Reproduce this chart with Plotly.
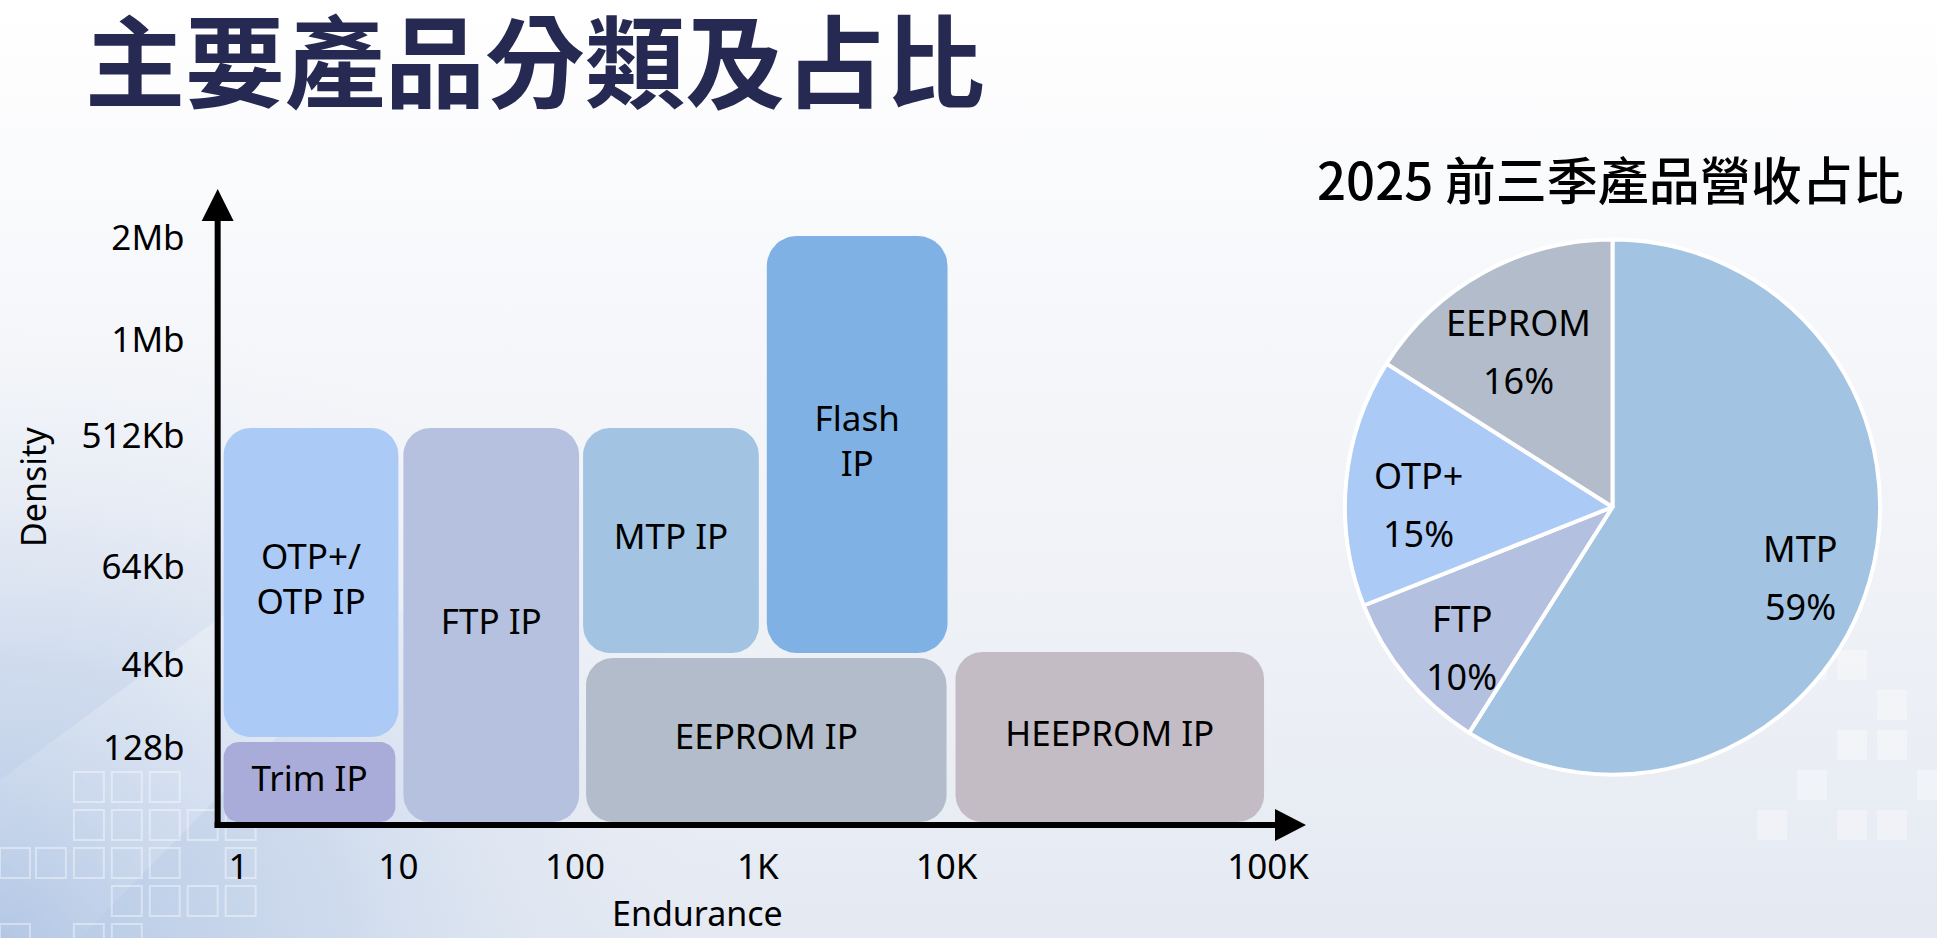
import base64
import numpy as np
import plotly.graph_objects as go

W, H = 1940, 938

# ---------------- data ----------------
# Left schematic: product families placed by endurance (x) and density (y)
box_names = ["OTP+/<br>OTP IP", "Trim IP", "FTP IP", "MTP IP", "Flash<br>IP", "EEPROM IP", "HEEPROM IP"]
box_x0 = [6, 6, 186, 366, 550, 369, 739]
box_x1 = [181, 178, 362, 542, 731, 730, 1048]
box_y0 = [88, 3, 3, 172, 172, 3, 3]
box_y1 = [397, 83, 397, 397, 589, 167, 173]

x_tick_pos = [21, 181, 358, 541, 730, 1052]
x_tick_text = ["1", "10", "100", "1K", "10K", "100K"]
y_tick_pos = [77, 160, 258, 389, 485, 587]
y_tick_text = ["128b", "4Kb", "64Kb", "512Kb", "1Mb", "2Mb"]

# Right pie: 2025 first three quarters revenue share
pie_labels = ["MTP", "FTP", "OTP+", "EEPROM"]
pie_values = [59, 10, 15, 16]

# ---------------- styles ----------------
box_colors = ["#abcaf6", "#a9acd9", "#b5c1de", "#a2c3e2", "#7fb1e5", "#b2bcca", "#c4bcc5"]
box_radius = [27, 15, 27, 27, 30, 27, 27]
pie_colors = ["#a2c3e2", "#b4c0df", "#abcaf6", "#b2bcca"]

FONT = "Noto Sans, Noto Sans CJK TC, sans-serif"
CJK = "Noto Sans CJK TC, Noto Sans, sans-serif"

# plot-area geometry (pixels): axis origin and axis lengths (1 unit = 1 px)
OX, OY = 218, 825
XR, YR = 1090, 636
# pie geometry (pixels)
PCX, PCY, PR = 1615, 507, 268
LABEL_R = 0.73   # label distance as a fraction of the radius
LABEL_DY = 16    # labels sit slightly below the bisector point (px)


def rounded_rect(x0, x1, y0, y1, r, n=14):
    xs, ys = [], []
    corners = [(x1 - r, y1 - r, 0), (x0 + r, y1 - r, 90), (x0 + r, y0 + r, 180), (x1 - r, y0 + r, 270)]
    for cx, cy, a0 in corners:
        t = np.radians(np.linspace(a0, a0 + 90, n))
        xs.extend(cx + r * np.cos(t))
        ys.extend(cy + r * np.sin(t))
    xs.append(xs[0])
    ys.append(ys[0])
    return xs, ys


fig = go.Figure()

for i in range(len(box_names)):
    xs, ys = rounded_rect(box_x0[i], box_x1[i], box_y0[i], box_y1[i], box_radius[i])
    fig.add_trace(go.Scatter(
        x=xs, y=ys, mode="lines", fill="toself", fillcolor=box_colors[i],
        line=dict(width=0, color=box_colors[i]), hoverinfo="skip", showlegend=False,
    ))

fig.add_trace(go.Scatter(
    x=[(a + b) / 2 for a, b in zip(box_x0, box_x1)],
    y=[(a + b) / 2 for a, b in zip(box_y0, box_y1)],
    mode="text", text=box_names, textposition="middle center",
    textfont=dict(family=FONT, size=35, color="#000000"),
    hoverinfo="skip", showlegend=False, cliponaxis=False,
))

fig.add_trace(go.Pie(
    labels=pie_labels, values=pie_values, sort=False, direction="clockwise", rotation=0,
    marker=dict(colors=pie_colors, line=dict(color="#ffffff", width=4)),
    textinfo="none", hoverinfo="skip", showlegend=False,
    domain=dict(x=[(PCX - PR) / W, (PCX + PR) / W],
                y=[(H - PCY - PR) / H, (H - PCY + PR) / H]),
))

# axes (pixel-equal scaling)
fig.update_xaxes(
    range=[0, XR], domain=[OX / W, (OX + XR) / W],
    showgrid=False, zeroline=False, showline=False,
    tickmode="array", tickvals=x_tick_pos, ticktext=x_tick_text,
    ticks="outside", ticklen=0, ticklabelstandoff=11,
    tickfont=dict(family=FONT, size=35, color="#000000"), fixedrange=True,
)
fig.update_yaxes(
    range=[0, YR], domain=[(H - OY) / H, (H - OY + YR) / H],
    showgrid=False, zeroline=False, showline=False,
    tickmode="array", tickvals=y_tick_pos, ticktext=y_tick_text,
    ticks="outside", ticklen=0, ticklabelstandoff=25,
    tickfont=dict(family=FONT, size=35, color="#000000"), fixedrange=True,
)


def px(x):
    return x / W


def py(y):
    return 1 - y / H


shapes = [
    # x axis line + head
    dict(type="line", xref="paper", yref="paper", x0=px(OX - 3), x1=px(OX + XR - 28),
         y0=py(OY), y1=py(OY), line=dict(color="#000000", width=6)),
    dict(type="path", xref="paper", yref="paper",
         path=f"M {px(OX + XR - 31)},{py(OY - 16)} L {px(OX + XR)},{py(OY)} L {px(OX + XR - 31)},{py(OY + 16)} Z",
         fillcolor="#000000", line=dict(width=0)),
    # y axis line + head
    dict(type="line", xref="paper", yref="paper", x0=px(OX), x1=px(OX),
         y0=py(OY + 3), y1=py(OY - YR + 28), line=dict(color="#000000", width=6)),
    dict(type="path", xref="paper", yref="paper",
         path=f"M {px(OX - 16)},{py(OY - YR + 32)} L {px(OX)},{py(OY - YR)} L {px(OX + 16)},{py(OY - YR + 32)} Z",
         fillcolor="#000000", line=dict(width=0)),
]

annotations = [
    dict(text="主要產品分類及占比", x=px(83), y=py(61), xref="paper", yref="paper",
         xanchor="left", yanchor="middle", showarrow=False,
         font=dict(family=FONT, size=100, color="#262a52", weight=700)),
    dict(text="2025 前三季產品營收占比", x=px(1613), y=py(178), xref="paper", yref="paper",
         xanchor="center", yanchor="middle", showarrow=False,
         font=dict(family=CJK, size=51, color="#000000", weight=500)),
    dict(text="Density", x=px(33), y=py(487), xref="paper", yref="paper", textangle=-90,
         xanchor="center", yanchor="middle", showarrow=False,
         font=dict(family=FONT, size=34, color="#000000")),
    dict(text="Endurance", x=px(699), y=py(913), xref="paper", yref="paper",
         xanchor="center", yanchor="middle", showarrow=False,
         font=dict(family=FONT, size=34, color="#000000")),
]

# pie slice labels placed on each slice's bisector (derived from the values)
total = float(sum(pie_values))
cum = 0.0
for lab, v in zip(pie_labels, pie_values):
    mid = (cum + v / 2) / total * 2 * np.pi  # clockwise from 12 o'clock
    cum += v
    lx = PCX + LABEL_R * PR * np.sin(mid)
    ly = PCY - LABEL_R * PR * np.cos(mid) + LABEL_DY
    for txt, dy in ((lab, -29), (f"{v / total * 100:.0f}%", 29)):
        annotations.append(dict(
            text=txt, x=px(lx), y=py(ly + dy), xref="paper", yref="paper",
            xanchor="center", yanchor="middle", showarrow=False,
            font=dict(family=FONT, size=36, color="#000000")))

# background gradient as an SVG image
sq = []
for (x, y) in [(74, 772), (112, 772), (150, 772), (74, 810), (112, 810), (150, 810), (188, 810), (226, 810),
               (0, 848), (36, 848), (74, 848), (112, 848), (150, 848), (226, 848), (112, 886), (150, 886),
               (188, 886), (226, 886), (0, 924), (74, 924), (112, 924)]:
    sq.append(f"<rect x='{x}' y='{y}' width='30' height='30' fill='none' stroke='#ffffff' stroke-opacity='0.4' stroke-width='2'/>")
for (x, y) in [(1800, 650), (1840, 650), (1880, 690), (1840, 730), (1880, 730), (1800, 770), (1760, 810),
               (1840, 810), (1880, 810), (1920, 770)]:
    sq.append(f"<rect x='{x}' y='{y}' width='30' height='30' fill='#ffffff' fill-opacity='0.35'/>")
svg = f"""<svg xmlns='http://www.w3.org/2000/svg' width='{W}' height='{H}' viewBox='0 0 {W} {H}'>
<defs>
<linearGradient id='g' x1='0' y1='0' x2='0' y2='1'>
<stop offset='0' stop-color='#ffffff'/><stop offset='0.3' stop-color='#f7f8fb'/>
<stop offset='0.75' stop-color='#eceff5'/><stop offset='1' stop-color='#e4e9f2'/></linearGradient>
<radialGradient id='r' cx='0' cy='{H}' r='1' gradientUnits='userSpaceOnUse'
 gradientTransform='translate(0,{H}) scale(760,620) translate(0,-{H})'>
<stop offset='0' stop-color='#b3c7e5' stop-opacity='1'/><stop offset='0.45' stop-color='#c9d7ec' stop-opacity='0.8'/>
<stop offset='1' stop-color='#e8edf5' stop-opacity='0'/></radialGradient>
<linearGradient id='d' x1='0' y1='1' x2='1' y2='0'>
<stop offset='0' stop-color='#ffffff' stop-opacity='0'/><stop offset='0.5' stop-color='#ffffff' stop-opacity='0.3'/>
<stop offset='1' stop-color='#ffffff' stop-opacity='0'/></linearGradient>
</defs>
<rect width='{W}' height='{H}' fill='url(#g)'/>
<rect width='{W}' height='{H}' fill='url(#r)'/>
<polygon points='0,780 420,470 540,470 80,938 0,938' fill='url(#d)'/>
{''.join(sq)}
</svg>"""
src = "data:image/svg+xml;base64," + base64.b64encode(svg.encode("utf-8")).decode("ascii")

fig.update_layout(
    width=W, height=H, margin=dict(l=0, r=0, t=0, b=0),
    paper_bgcolor="#ffffff", plot_bgcolor="rgba(0,0,0,0)",
    shapes=shapes, annotations=annotations, showlegend=False,
    images=[dict(source=src, xref="paper", yref="paper", x=0, y=1, sizex=1, sizey=1,
                 xanchor="left", yanchor="top", sizing="stretch", layer="below")],
)

fig.write_html(
    "out.html", config={"displayModeBar": False},
    post_script="document.body.style.margin='0';document.body.style.overflow='hidden';",
)
